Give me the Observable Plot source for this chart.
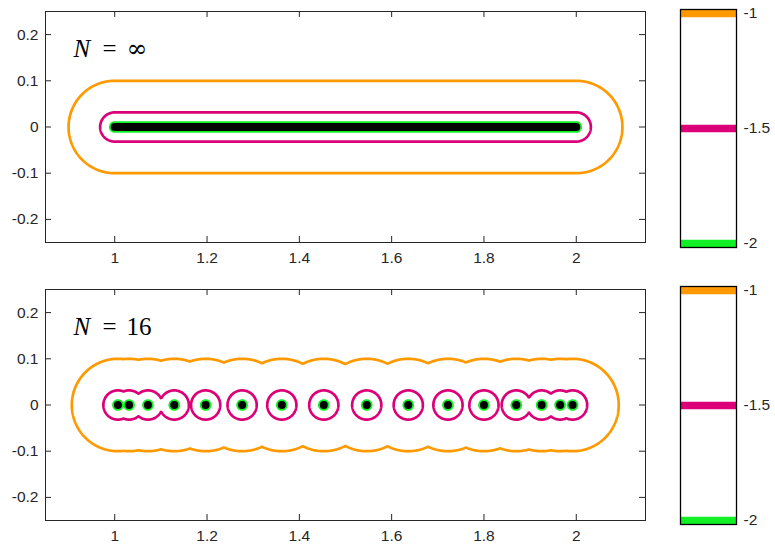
<!DOCTYPE html>
<html><head><meta charset="utf-8">
<script src="https://cdn.jsdelivr.net/npm/d3@7"></script>
<script src="https://cdn.jsdelivr.net/npm/@observablehq/plot@0.6"></script>
<style>
html,body{margin:0;padding:0;background:#fff;overflow:hidden;}
#wrap{position:relative;width:775px;height:544px;background:#fff;}
#wrap > div{position:absolute;}
</style></head><body><div id="wrap"></div>
<script>
// ---- data ----
const xTicks = [1, 1.2, 1.4, 1.6, 1.8, 2];
const yTicks = [-0.2, -0.1, 0, 0.1, 0.2];
const xDomain = [0.85, 2.15];
const yDomain = [-0.25, 0.25];
const segment = [1, 2];                 // N = ∞ : the whole interval
const nodes16 = [1.007, 1.031, 1.072, 1.129, 1.197, 1.276, 1.362, 1.453,
                 1.546, 1.636, 1.722, 1.800, 1.870, 1.925, 1.965, 1.992];
const levels = [-1, -1.5, -2];          // contour levels (log10 distance)
const levelColors = ["#ff9900", "#dc0078", "#10f025"];
const cbTicks = [-1, -1.5, -2];
const panelNames = ["\u221E", "16"];

// ---- helpers ----
const ink = "#262626";
const FS = 15.5;
const sans = "'Liberation Sans', Arial, sans-serif";
const serif = "'Liberation Serif', 'DejaVu Serif', serif";
function distSegment(x, y) {
  const dx = x < segment[0] ? segment[0] - x : (x > segment[1] ? x - segment[1] : 0);
  return Math.hypot(dx, y);
}
function distNodes(x, y) {
  let m = Infinity;
  for (const p of nodes16) { const d = Math.hypot(x - p, y); if (d < m) m = d; }
  return m;
}

function mainPanel(name, distFn, extra) {
  const W = 660, H = 266, mL = 45, mR = 15, mT = 11, mB = 24;
  const pw = W - mL - mR, ph = H - mT - mB;
  // contour of -log10(distance) so that each closed curve surrounds the set
  const contours = levels.map((lv, i) => Plot.contour({
    x1: xDomain[0], x2: xDomain[1], y1: yDomain[0], y2: yDomain[1],
    value: (x, y) => -Math.log10(Math.max(distFn(x, y), 1e-12)),
    thresholds: [-lv], pixelSize: 0.5,
    stroke: levelColors[i], strokeWidth: i === 2 ? 2.4 : 2.7, fill: "none"
  }));
  return Plot.plot({
    width: W, height: H, marginLeft: mL, marginRight: mR, marginTop: mT, marginBottom: mB,
    x: {domain: xDomain, axis: null}, y: {domain: yDomain, axis: null},
    style: {fontFamily: sans, color: ink, background: "white", overflow: "visible"},
    marks: [
      ...contours,
      ...extra,
      Plot.frame({stroke: ink, strokeWidth: 1}),
      Plot.tickX(xTicks, {x: d => d, insetTop: ph - 6, stroke: ink}),
      Plot.tickX(xTicks, {x: d => d, insetBottom: ph - 6, stroke: ink}),
      Plot.tickY(yTicks, {y: d => d, insetRight: pw - 6, stroke: ink}),
      Plot.tickY(yTicks, {y: d => d, insetLeft: pw - 6, stroke: ink}),
      Plot.text(xTicks, {x: d => d, text: d => String(d), frameAnchor: "bottom", lineAnchor: "top", dy: 9.5,
        fontSize: FS, fontFamily: sans, fill: ink}),
      Plot.text(yTicks, {y: d => d, text: d => String(d), frameAnchor: "left", textAnchor: "end", dx: -7,
        fontSize: FS, fontFamily: sans, fill: ink}),
      Plot.text(["N"], {text: d => d, frameAnchor: "top-left", dx: 28, dy: 28, textAnchor: "start",
        fontFamily: serif, fontStyle: "italic", fontSize: 25, fill: "black"}),
      Plot.text(["="], {text: d => d, frameAnchor: "top-left", dx: 57, dy: 28, textAnchor: "start",
        fontFamily: serif, fontSize: 25, fill: "black"}),
      Plot.text([name], {text: d => d, frameAnchor: "top-left", dx: 81, dy: 28, textAnchor: "start",
        fontFamily: name === "\u221E" ? "'DejaVu Serif', serif" : serif, fontSize: 25, fill: "black"})
    ]
  });
}

function colorbar() {
  return Plot.plot({
    width: 115, height: 262, marginLeft: 20, marginRight: 39, marginTop: 9, marginBottom: 15,
    x: {axis: null, domain: [0, 1]},
    y: {domain: [-2, -1], inset: 4, axis: null},
    color: {type: "identity"},
    style: {fontFamily: sans, color: ink, background: "white", overflow: "visible"},
    marks: [
      Plot.ruleY(levels, {y: d => d, stroke: (d, i) => levelColors[i], strokeWidth: 7.5}),
      Plot.frame({stroke: "black", strokeWidth: 1.3}),
      Plot.text(cbTicks, {y: d => d, text: d => String(d), frameAnchor: "right", textAnchor: "start", dx: 7,
        fontSize: FS, fontFamily: sans, fill: ink})
    ]
  });
}

const wrap = document.getElementById("wrap");
function place(node, left, top) {
  const d = document.createElement("div");
  d.style.left = left + "px"; d.style.top = top + "px";
  d.appendChild(node); wrap.appendChild(d);
}

const segMark = Plot.line(segment, {x: d => d, y: () => 0, stroke: "black", strokeWidth: 8, strokeLinecap: "round"});
const dotMark = Plot.dot(nodes16, {x: d => d, y: () => 0, r: 4, fill: "black", stroke: "none"});

place(mainPanel(panelNames[0], distSegment, [segMark]), 0, 0);
place(colorbar(), 660, 0);
place(mainPanel(panelNames[1], distNodes, [dotMark]), 0, 278);
place(colorbar(), 660, 277);
</script></body></html>
